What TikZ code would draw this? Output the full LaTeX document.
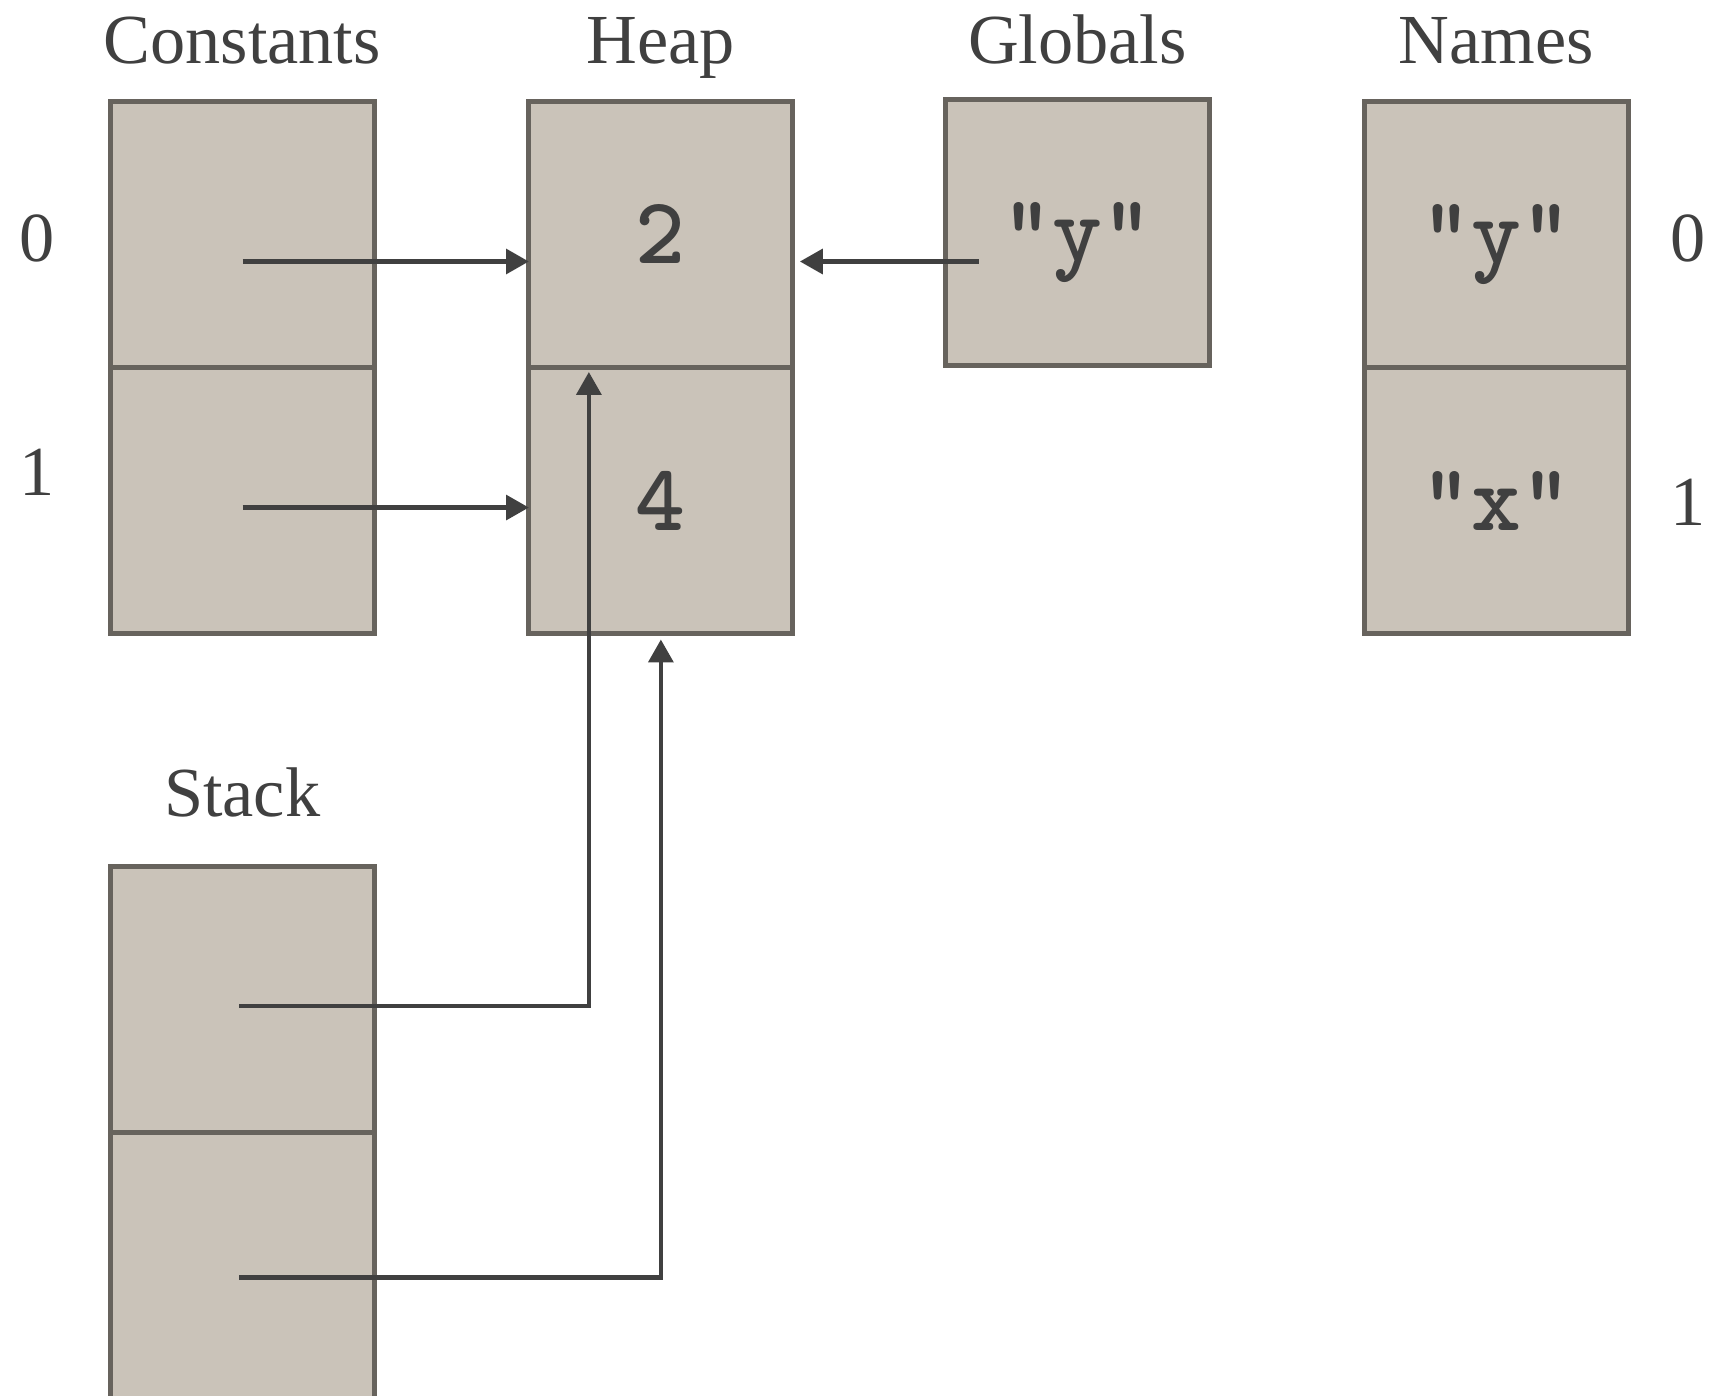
\documentclass[tikz,border=0pt]{standalone}
\usepackage{fontspec}
\setmainfont{Liberation Serif}
\usepackage{xcolor}
\usetikzlibrary{positioning,arrows.meta}
\definecolor{cellfill}{HTML}{CAC3B9}
\definecolor{celledge}{HTML}{67635D}
\definecolor{ink}{HTML}{404040}

\begin{document}
\begin{tikzpicture}[x=0.011033cm,y=-0.011033cm,
    cell/.style={draw=celledge,fill=cellfill,line width=1.4pt,outer sep=0pt,
        minimum width=2.64cm,minimum height=2.66cm,inner sep=0pt,text depth=0pt,
        text=ink,font=\fontsize{27}{27}\ttfamily\bfseries},
    title/.style={text=ink,font=\fontsize{20}{24}\selectfont},
    idx/.style={text=ink,font=\fontsize{20}{24}\selectfont,anchor=base},
    ptr/.style={draw=ink,line width=1.25pt,-{Triangle[length=6.5pt,width=7pt]}}]
    \useasboundingbox (0,0) rectangle (1568,1265);

    % constants table
    \node[cell] (c0) at (219.5,212.5) {};
    \node[cell,below=0pt of c0] (c1) {};
    \node[title,above=0.38cm of c0,anchor=base] (tconst) {Constants};
    \node[idx] (ci0) at (34,237) {0};
    \node[idx] (ci1) at (34,449) {1};

    % heap
    \node[cell] (h0) at (599,212.5) {2};
    \node[cell,below=0pt of h0] (h1) {4};
    \node[title,above=0.38cm of h0,anchor=base] (theap) {Heap};

    % globals
    \node[cell] (g0) at (976.5,210.5) {"y"};
    \node[title,above=0.36cm of g0,anchor=base] (tglob) {Globals};

    % names
    \node[cell] (n0) at (1356,212.5) {"y"};
    \node[cell,below=0pt of n0] (n1) {"x"};
    \node[title,above=0.38cm of n0,anchor=base] (tnames) {Names};
    \node[idx] (ni0) at (1530,237) {0};
    \node[idx] (ni1) at (1530,476) {1};

    % stack
    \node[cell] (s0) at (219.5,906) {};
    \node[cell,below=0pt of s0] (s1) {};
    \node[title,above=0.5cm of s0,anchor=base] (tstack) {Stack};

    % pointers into the heap
    \coordinate (c0p) at (220,237);
    \coordinate (c1p) at (220,460);
    \coordinate (g0p) at (887,237);
    \coordinate (s0p) at (217,912);
    \coordinate (s1p) at (217,1158);
    \draw[ptr] (c0p) -- (c0p -| h0.west);
    \draw[ptr] (c1p) -- (c1p -| h1.west);
    \draw[ptr,shorten >=0.07cm] (g0p) -- (g0p -| h0.east);
    \draw[ptr] (s0p) -| ([xshift=0.6cm,yshift=-0.045cm]h1.north west);
    \draw[ptr,shorten >=0.06cm] (s1p) -| (h1.south);
\end{tikzpicture}
\end{document}
